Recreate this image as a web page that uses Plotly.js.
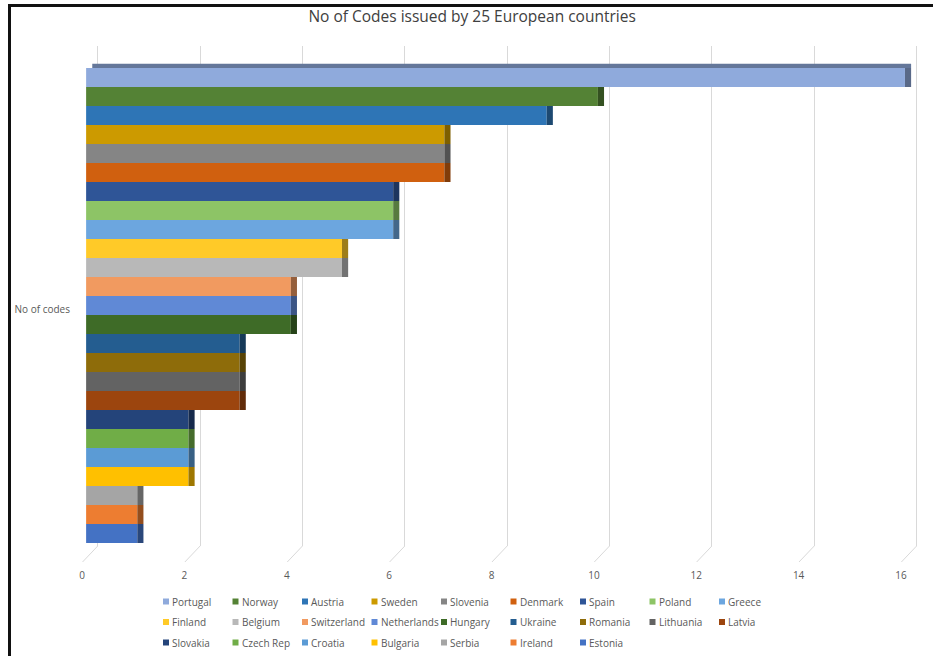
<!DOCTYPE html>
<html>
<head>
<meta charset="utf-8">
<script src="https://cdn.plot.ly/plotly-3.0.1.min.js"></script>
<style>
  html, body { margin: 0; padding: 0; background: #fff; }
  #chart { width: 933px; height: 656px; }
  #frame {
    position: absolute; left: 8px; top: 4px; right: 0; bottom: 0;
    border-left: 3px solid #111; border-top: 3px solid #111;
    pointer-events: none;
  }
</style>
</head>
<body>
<div id="chart"></div>
<div id="frame"></div>
<script>
// Single category, one series per country
const category = 'No of codes';
const countries = ['Portugal', 'Norway', 'Austria', 'Sweden', 'Slovenia', 'Denmark', 'Spain', 'Poland', 'Greece',
                   'Finland', 'Belgium', 'Switzerland', 'Netherlands', 'Hungary', 'Ukraine', 'Romania', 'Lithuania', 'Latvia',
                   'Slovakia', 'Czech Rep', 'Croatia', 'Bulgaria', 'Serbia', 'Ireland', 'Estonia'];
const codes = [16, 10, 9, 7, 7, 7, 6, 6, 6,
               5, 5, 4, 4, 4, 3, 3, 3, 3,
               2, 2, 2, 2, 1, 1, 1];
const xTicks = [0, 2, 4, 6, 8, 10, 12, 14, 16];

// Office-style series colours
const palette = ['#8FAADC', '#548235', '#2E75B6', '#CC9A00', '#858585', '#D0600F', '#2F5597', '#8DC466', '#6CA6DF',
                 '#FFCA28', '#B8B8B8', '#F19A60', '#6089D6', '#3E6B27', '#245D90', '#8E6C0A', '#636363', '#9C450E',
                 '#24447A', '#70AD47', '#5B9BD5', '#FFC000', '#A5A5A5', '#ED7D31', '#4472C4'];

function shade(hex, f) {
  const n = parseInt(hex.slice(1), 16);
  const r = Math.round(((n >> 16) & 255) * f);
  const g = Math.round(((n >> 8) & 255) * f);
  const b = Math.round((n & 255) * f);
  return 'rgb(' + r + ',' + g + ',' + b + ')';
}

// page geometry
const W = 933, H = 656;
const M = { l: 81, r: 5, t: 46, b: 110 };
const plotW = W - M.l - M.r, plotH = H - M.t - M.b;
const paperX = px => (px - M.l) / plotW;
const paperY = py => (H - M.b - py) / plotH;

const slot = 1 / countries.length;   // each series gets an equal slice of the category band
const capDepth = 0.12;                // depth of the 3-D end face, in axis units
const backShift = 0.227;              // horizontal offset of the back wall gridlines

const traces = [];
countries.forEach((name, i) => {
  const off = -0.5 + i * slot;
  traces.push({
    type: 'bar', orientation: 'h', name: name,
    y: [category], x: [codes[i]],
    offset: off, width: slot,
    marker: { color: palette[i], line: { width: 0 } },
    hovertemplate: name + ': %{x}<extra></extra>'
  });
  // darker end face giving the bar its depth
  traces.push({
    type: 'bar', orientation: 'h', showlegend: false, hoverinfo: 'skip',
    y: [category], x: [capDepth], base: [codes[i]],
    offset: off, width: slot,
    marker: { color: shade(palette[i], 0.62), line: { width: 0 } }
  });
});
// top face of the uppermost bar
traces.push({
  type: 'bar', orientation: 'h', showlegend: false, hoverinfo: 'skip',
  y: [category], x: [codes[0]], base: [capDepth],
  offset: -0.5 - 0.009, width: 0.009,
  marker: { color: shade(palette[0], 0.7), line: { width: 0 } }
});
// empty trace that puts the back-wall axis on the subplot
traces.push({ type: 'scatter', mode: 'markers', x: [], y: [], xaxis: 'x2', yaxis: 'y', showlegend: false, hoverinfo: 'skip' });

const tickFont = { family: 'Open Sans', size: 10, color: '#595959' };
const legendFont = { family: 'Open Sans', size: 10, color: '#595959' };

// short slanted connectors from the back wall down to each tick label
const shapes = xTicks.map(v => ({
  type: 'line', xref: 'x', yref: 'paper',
  x0: v + backShift, y0: 0, x1: v - 0.07, y1: -0.032,
  line: { color: '#d9d9d9', width: 1 }, layer: 'below'
}));

// legend: 9 entries per row, small square swatch then the country name
const annotations = [];
const colStep = 69.5, firstCol = 166, rowY = [601.5, 622, 642.5], sw = 3;
countries.forEach((name, i) => {
  const cx = firstCol + (i % 9) * colStep;
  const cy = rowY[Math.floor(i / 9)];
  shapes.push({
    type: 'rect', xref: 'paper', yref: 'paper',
    x0: paperX(cx - sw), x1: paperX(cx + sw), y0: paperY(cy + sw), y1: paperY(cy - sw),
    fillcolor: palette[i], line: { width: 0 }
  });
  annotations.push({
    xref: 'paper', yref: 'paper', x: paperX(cx + sw + 2), y: paperY(cy),
    xanchor: 'left', yanchor: 'middle', text: name, showarrow: false,
    font: legendFont, borderpad: 0
  });
});

const layout = {
  width: W, height: H,
  margin: M,
  paper_bgcolor: '#fff', plot_bgcolor: '#fff',
  barmode: 'overlay',
  showlegend: false,
  title: {
    text: 'No of Codes issued by 25 European countries',
    font: { family: 'Open Sans', size: 15.5, color: '#404040' },
    xref: 'container', yref: 'container', x: 0.506, y: 1 - 17 / H,
    xanchor: 'center', yanchor: 'middle'
  },
  xaxis: {
    range: [-0.1, 16.45], tickvals: xTicks, showgrid: false, zeroline: false, showline: false,
    ticks: 'outside', ticklen: 20, tickcolor: 'rgba(0,0,0,0)', ticklabelshift: -4,
    tickfont: tickFont, fixedrange: true
  },
  xaxis2: {
    overlaying: 'x', anchor: 'y', side: 'bottom',
    range: [-0.1 - backShift, 16.45 - backShift], tickvals: xTicks,
    showgrid: true, gridcolor: '#d9d9d9', gridwidth: 1,
    showticklabels: false, zeroline: false, showline: false, ticks: '', fixedrange: true
  },
  yaxis: {
    type: 'category', range: [0.5 + 3 / 475, -0.5 - 22 / 475],
    showgrid: false, zeroline: false, showline: false,
    ticks: 'outside', ticklen: 8, tickcolor: 'rgba(0,0,0,0)', ticklabelshift: -4,
    tickfont: { family: 'Open Sans', size: 10, color: '#595959' }, fixedrange: true
  },
  shapes: shapes,
  annotations: annotations
};

Plotly.newPlot('chart', traces, layout, { displayModeBar: false });
</script>
</body>
</html>
